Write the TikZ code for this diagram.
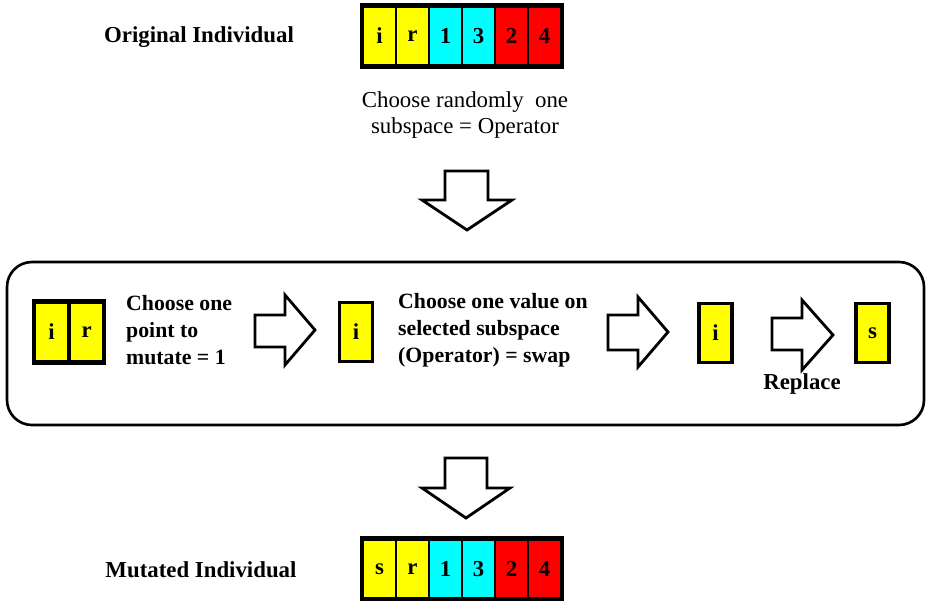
\documentclass[tikz,border=0pt]{standalone}
\usepackage{fontspec}
\setmainfont{Liberation Serif}
\usetikzlibrary{positioning}
\definecolor{geneyellow}{RGB}{255,255,0}
\definecolor{genecyan}{RGB}{0,255,255}
\definecolor{genered}{RGB}{255,0,0}
\tikzset{
    gene/.style={draw, line width=1.3pt, minimum width=0.66cm, minimum height=1.18cm,
        inner sep=0pt, font=\bfseries\fontsize{13}{15}\selectfont},
    chromframe/.style={draw, line width=2.2pt},
    blockarrow/.style={draw, line width=1.6pt, fill=white, line join=miter},
    caption/.style={font=\fontsize{13}{14.8}\selectfont, align=center},
    steptext/.style={font=\bfseries\fontsize{12.4}{15.3}\selectfont, align=left}
}

\begin{document}
\begin{tikzpicture}[x=0.02cm, y=-0.02cm]
    \useasboundingbox (0,0) rectangle (926,601);

    % Original individual
    \node[steptext, font=\bfseries\fontsize{13}{15}\selectfont] (origlabel) at (199,37) {Original Individual};
    \foreach \lab/\col [count=\k] in {i/geneyellow, r/geneyellow, 1/genecyan, 3/genecyan, 2/genered, 4/genered}
        \node[gene, fill=\col] (o\k) at (379.5+33*\k-33,36) {\lab};
    \draw[chromframe] (o1.north west) rectangle (o6.south east);

    \node[caption] (choose) at (465,115) {Choose randomly\ \ one\\subspace = Operator};

    % Premiere fleche
    \draw[blockarrow]
    (445,171) -- (488,171) -- (488,200) -- (512,200)
    -- (467,230) -- (422,200) -- (445,200) -- cycle;

    % Cadre de la mutation
    \draw[line width=1.5pt, rounded corners=0.5cm] (7,262) rectangle (924,425);

    \node[gene, fill=geneyellow] (m1) at (51.5,332) {i};
    \node[gene, fill=geneyellow, right=0pt of m1] (m2) {r};
    \draw[chromframe] (m1.north west) rectangle (m2.south east);

    \node[steptext, anchor=west] (step1) at (120,330) {Choose one\\point to\\mutate = 1};

    \draw[blockarrow]
    (255,315) -- (285,315) -- (285,295) -- (315,330)
    -- (285,365) -- (285,347) -- (255,347) -- cycle;

    \node[gene, fill=geneyellow, line width=2pt] (pick) at (356,332) {i};

    \node[steptext, anchor=west] (step2) at (392,330)
        {Choose one value on\\selected subspace\\(Operator) = swap};

    \draw[blockarrow]
    (608,315) -- (638,315) -- (638,297) -- (668,332)
    -- (638,367) -- (638,350) -- (608,350) -- cycle;

    \node[gene, fill=geneyellow, line width=2pt] (old) at (715.5,333) {i};

    \draw[blockarrow]
    (772,318) -- (802,318) -- (802,300) -- (833,335)
    -- (802,370) -- (802,350) -- (772,350) -- cycle;

    \node[steptext, font=\bfseries\fontsize{13}{15}\selectfont] (replace) at (802,384) {Replace};

    \node[gene, fill=geneyellow, line width=2pt] (new) at (872.5,333) {s};

    % Deuxieme fleche
    \draw[blockarrow]
    (445,458) -- (487,458) -- (487,488) -- (510,488)
    -- (466,518) -- (422,488) -- (445,488) -- cycle;

    % Mutated individual
    \node[steptext, font=\bfseries\fontsize{13}{15}\selectfont] (mutlabel) at (201,570) {Mutated Individual};
    \foreach \lab/\col [count=\k] in {s/geneyellow, r/geneyellow, 1/genecyan, 3/genecyan, 2/genered, 4/genered}
        \node[gene, fill=\col] (n\k) at (379.5+33*\k-33,569) {\lab};
    \draw[chromframe] (n1.north west) rectangle (n6.south east);
\end{tikzpicture}
\end{document}
